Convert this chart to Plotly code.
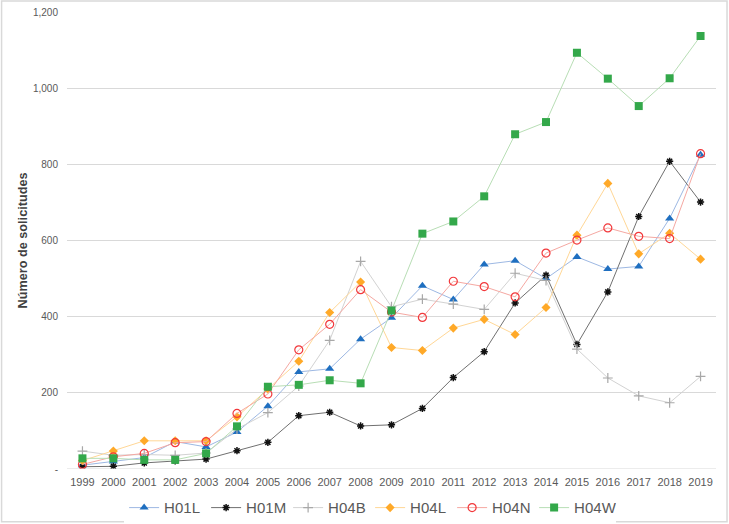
import plotly.graph_objects as go

years = [str(y) for y in range(1999, 2020)]

h01l = [10, 20, 30, 72, 58, 97, 165, 255, 263, 341, 397, 481, 445, 537, 547, 500, 557, 525, 532, 658, 825]
h01m = [6, 7, 16, 21, 26, 48, 70, 140, 149, 113, 116, 159, 240, 308, 436, 509, 327, 465, 663, 808, 701]
h04b = [47, 36, 38, 36, 42, 105, 148, 218, 338, 545, 426, 446, 433, 419, 514, 495, 315, 239, 192, 174, 243]
h04l = [22, 47, 74, 74, 74, 137, 210, 283, 411, 491, 319, 311, 370, 393, 353, 424, 614, 750, 565, 619, 551]
h04n = [12, 32, 41, 69, 72, 146, 197, 313, 380, 471, 412, 398, 493, 479, 452, 567, 601, 633, 611, 605, 828]
h04w = [28, 28, 24, 24, 41, 112, 216, 221, 233, 225, 416, 618, 650, 716, 879, 911, 1093, 1025, 953, 1026, 1137]

tick_vals = [0, 200, 400, 600, 800, 1000, 1200]
tick_text = ["-", "200", "400", "600", "800", "1,000", "1,200"]

series = [
    ("H01L", h01l, dict(symbol="triangle-up", size=8, color="#1F6FC0"), "#9DB8E3"),
    ("H01M", h01m, dict(symbol="asterisk-open", size=6, color="#111111", line=dict(color="#111111", width=1.5)), "#707070"),
    ("H04B", h04b, dict(symbol="cross-thin-open", size=7, color="#A8A8A8", line=dict(color="#A8A8A8", width=1.2)), "#D2D2D2"),
    ("H04L", h04l, dict(symbol="diamond", size=7, color="#FFA928"), "#FFD796"),
    ("H04N", h04n, dict(symbol="circle-open", size=8, color="#F2383B", line=dict(color="#F2383B", width=1.2)), "#F5A8A2"),
    ("H04W", h04w, dict(symbol="square", size=8, color="#33A84A"), "#B8DEB5"),
]

fig = go.Figure()
for name, vals, marker, lc in series:
    fig.add_trace(go.Scatter(x=years, y=vals, name=name, mode="lines+markers",
                             line=dict(color=lc, width=1), marker=marker))

fig.update_layout(
    width=729, height=524,
    margin=dict(l=66.5, r=13, t=12, b=54.7, autoexpand=False),
    paper_bgcolor="white", plot_bgcolor="white",
    font=dict(family="Liberation Sans, Arial, sans-serif", color="#595959"),
    showlegend=True,
    legend=dict(orientation="h", x=0.088, xanchor="left", y=-0.085, yanchor="middle",
                font=dict(size=15, color="#595959"), itemwidth=30, tracegroupgap=0,
                entrywidth=37, entrywidthmode="pixels"),
    xaxis=dict(type="category", range=[-0.5, 20.5], showgrid=False, automargin=False,
               showline=False, ticks="", tickfont=dict(size=11, color="#595959"),
               ticklabelstandoff=5),
    yaxis=dict(range=[0, 1200], tickvals=tick_vals, ticktext=tick_text, automargin=False,
               showgrid=True, gridcolor="#D9D9D9", gridwidth=1, zeroline=False,
               showline=False, ticks="", tickfont=dict(size=10, color="#595959"),
               ticklabelstandoff=8,
               title=dict(text="<b>Número de solicitudes</b>", font=dict(size=12.7, color="#404040"), standoff=2)),
    shapes=[
        dict(type="line", xref="paper", yref="y", x0=0, x1=1, y0=0, y1=0, line=dict(color="#D9D9D9", width=1)),
        dict(type="rect", xref="paper", yref="paper", x0=-0.1008, x1=1.0170, y0=-0.1152, y1=1.0240,
             line=dict(color="#D9D9D9", width=1.5)),
    ],
)

fig.write_html("out.html", config={"displayModeBar": False},
               post_script="document.body.style.margin='0';document.body.style.overflow='hidden';")
